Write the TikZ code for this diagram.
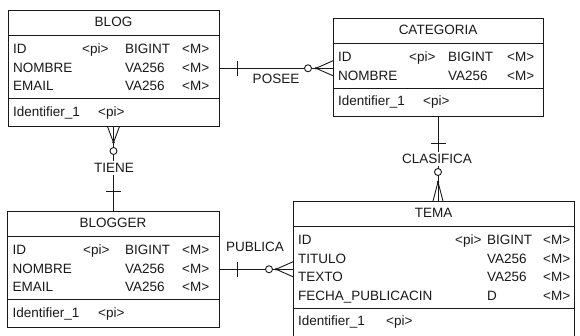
\documentclass[tikz,border=0pt]{standalone}
\usepackage{fontspec}
\setmainfont{Liberation Sans}
\begin{document}
\begin{tikzpicture}[x=1pt,y=-1pt,
  ent/.style={draw=black!90, line width=0.9pt, inner sep=0pt, outer sep=0pt, anchor=north west},
  sep/.style={draw=black!90, line width=0.9pt},
  conn/.style={draw=black!90, line width=0.9pt},
  txt/.style={inner sep=0pt, anchor=west, text height=9.6pt, text depth=0pt, font=\fontsize{13.5}{15}\selectfont, text=black!90},
  ttl/.style={txt, anchor=center},
  rel/.style={ttl, fill=white, inner xsep=1.5pt, inner ysep=2pt},
  hollow/.style={draw=black!90, line width=0.9pt, fill=white},
  dotty/.style={fill=black!90}
]
\useasboundingbox[fill=white] (0,0) rectangle (580,335);

% ---------- BLOG ----------
\node[ent, minimum width=211pt, minimum height=116.5pt] (blog) at (8,10) {};
\draw[sep] (8,35) -- (219,35);
\draw[sep] (8,98.5) -- (219,98.5);
\node[ttl] (blogT) at (113.5,21.5) {BLOG};
\node[txt] (blogA1) at (13,49) {ID};
\node[txt] (blogA1p) at (82,49) {<pi>};
\node[txt] (blogA1t) at (125,49) {BIGINT};
\node[txt] (blogA1m) at (182,49) {<M>};
\node[txt] (blogA2) at (13,67.5) {NOMBRE};
\node[txt] (blogA2t) at (125,67.5) {VA256};
\node[txt] (blogA2m) at (182,67.5) {<M>};
\node[txt] (blogA3) at (13,86) {EMAIL};
\node[txt] (blogA3t) at (125,86) {VA256};
\node[txt] (blogA3m) at (182,86) {<M>};
\node[txt] (blogI) at (13,111.5) {Identifier\_1};
\node[txt] (blogIp) at (98,111.5) {<pi>};

% ---------- CATEGORIA ----------
\node[ent, minimum width=210pt, minimum height=98pt] (cat) at (333,18) {};
\draw[sep] (333,43) -- (543,43);
\draw[sep] (333,88) -- (543,88);
\node[ttl] (catT) at (438,30) {CATEGORIA};
\node[txt] (catA1) at (338,57) {ID};
\node[txt] (catA1p) at (409,57) {<pi>};
\node[txt] (catA1t) at (448,57) {BIGINT};
\node[txt] (catA1m) at (507,57) {<M>};
\node[txt] (catA2) at (338,75.5) {NOMBRE};
\node[txt] (catA2t) at (448,75.5) {VA256};
\node[txt] (catA2m) at (507,75.5) {<M>};
\node[txt] (catI) at (338,101) {Identifier\_1};
\node[txt] (catIp) at (423,101) {<pi>};

% ---------- BLOGGER ----------
\node[ent, minimum width=212pt, minimum height=116.5pt] (blogger) at (7,211) {};
\draw[sep] (7,236) -- (219,236);
\draw[sep] (7,299.5) -- (219,299.5);
\node[ttl] (bgT) at (113,223) {BLOGGER};
\node[txt] (bgA1) at (12.5,250) {ID};
\node[txt] (bgA1p) at (83,250) {<pi>};
\node[txt] (bgA1t) at (125,250) {BIGINT};
\node[txt] (bgA1m) at (182,250) {<M>};
\node[txt] (bgA2) at (12.5,268.5) {NOMBRE};
\node[txt] (bgA2t) at (125,268.5) {VA256};
\node[txt] (bgA2m) at (182,268.5) {<M>};
\node[txt] (bgA3) at (12.5,287) {EMAIL};
\node[txt] (bgA3t) at (125,287) {VA256};
\node[txt] (bgA3m) at (182,287) {<M>};
\node[txt] (bgI) at (12.5,312.5) {Identifier\_1};
\node[txt] (bgIp) at (98,312.5) {<pi>};

% ---------- TEMA ----------
\node[ent, minimum width=281pt, minimum height=135pt] (tema) at (293,201) {};
\draw[sep] (293,226) -- (574,226);
\draw[sep] (293,308) -- (574,308);
\node[ttl] (temaT) at (433.5,213) {TEMA};
\node[txt] (tA1) at (298,240) {ID};
\node[txt] (tA1p) at (455,240) {<pi>};
\node[txt] (tA1t) at (487,240) {BIGINT};
\node[txt] (tA1m) at (543,240) {<M>};
\node[txt] (tA2) at (298,258.5) {TITULO};
\node[txt] (tA2t) at (487,258.5) {VA256};
\node[txt] (tA2m) at (543,258.5) {<M>};
\node[txt] (tA3) at (298,277) {TEXTO};
\node[txt] (tA3t) at (487,277) {VA256};
\node[txt] (tA3m) at (543,277) {<M>};
\node[txt] (tA4) at (298,295.5) {FECHA\_PUBLICACIN};
\node[txt] (tA4t) at (487,295.5) {D};
\node[txt] (tA4m) at (543,295.5) {<M>};
\node[txt] (tI) at (298,321) {Identifier\_1};
\node[txt] (tIp) at (386,321) {<pi>};

% ---------- POSEE ----------
\coordinate (pA) at (blog.east);
\coordinate (pB) at (blog.east -| cat.west);
\draw[conn] (pA) -- (pB);
\draw[conn] ([xshift=18pt,yshift=7.5pt]pA) -- ([xshift=18pt,yshift=-7.5pt]pA);
\draw[conn] ([xshift=-17pt]pB) -- ([yshift=7.5pt]pB);
\draw[conn] ([xshift=-17pt]pB) -- ([yshift=-7.5pt]pB);
\fill[dotty] ([xshift=-17pt]pB) circle[radius=1.4pt];
\draw[hollow] ([xshift=-25pt]pB) circle[radius=3.5pt];
\node[ttl] (posee) at (276,79) {POSEE};

% ---------- TIENE ----------
\coordinate (tA) at (blog.south);
\coordinate (tB) at (blog.south |- blogger.north);
\draw[conn] (tA) -- (tB);
\draw[conn] ([yshift=-16pt]tA) -- ([xshift=-6pt]tA);
\draw[conn] ([yshift=-16pt]tA) -- ([xshift=6pt]tA);
\fill[dotty] ([yshift=-16pt]tA) circle[radius=1.4pt];
\draw[hollow] ([yshift=-24.5pt]tA) circle[radius=3.5pt];
\node[rel] (tiene) at (114,168) {TIENE};
\draw[conn] ([xshift=-7.5pt,yshift=20pt]tB) -- ([xshift=7.5pt,yshift=20pt]tB);

% ---------- PUBLICA ----------
\coordinate (uA) at (blogger.east);
\coordinate (uB) at (blogger.east -| tema.west);
\draw[conn] (uA) -- (uB);
\draw[conn] ([xshift=18pt,yshift=7.5pt]uA) -- ([xshift=18pt,yshift=-7.5pt]uA);
\draw[conn] ([xshift=-17pt]uB) -- ([yshift=7.5pt]uB);
\draw[conn] ([xshift=-17pt]uB) -- ([yshift=-7.5pt]uB);
\fill[dotty] ([xshift=-17pt]uB) circle[radius=1.4pt];
\draw[hollow] ([xshift=-24pt]uB) circle[radius=3.5pt];
\node[ttl] (publica) at (255,247) {PUBLICA};

% ---------- CLASIFICA ----------
\coordinate (cA) at (cat.south);
\coordinate (cB) at (cat.south |- tema.north);
\draw[conn] (cA) -- (cB);
\draw[conn] ([xshift=-7.5pt,yshift=-27pt]cA) -- ([xshift=7.5pt,yshift=-27pt]cA);
\node[rel] (clasifica) at (437,159) {CLASIFICA};
\draw[conn] ([yshift=19pt]cB) -- ([xshift=-5pt]cB);
\draw[conn] ([yshift=19pt]cB) -- ([xshift=5pt]cB);
\fill[dotty] ([yshift=19pt]cB) circle[radius=1.4pt];
\draw[hollow] ([yshift=29pt]cB) circle[radius=3.5pt];
\end{tikzpicture}
\end{document}
